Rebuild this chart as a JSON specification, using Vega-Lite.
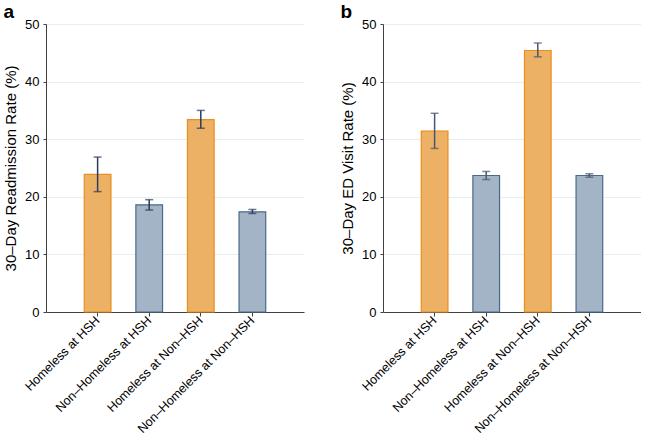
{
  "$schema": "https://vega.github.io/schema/vega-lite/v6.json",
  "padding": {"left": 3, "top": 3, "right": 0, "bottom": 0},
  "background": "white",
  "datasets": {
    "rates": [
      {"panel": "a", "group": "Homeless at HSH", "homeless": "Homeless", "rate": 23.9, "lo": 20.9, "hi": 26.9},
      {"panel": "a", "group": "Non–Homeless at HSH", "homeless": "Non-Homeless", "rate": 18.6, "lo": 17.7, "hi": 19.5},
      {"panel": "a", "group": "Homeless at Non–HSH", "homeless": "Homeless", "rate": 33.4, "lo": 31.9, "hi": 35.0},
      {"panel": "a", "group": "Non–Homeless at Non–HSH", "homeless": "Non-Homeless", "rate": 17.4, "lo": 17.1, "hi": 17.8},
      {"panel": "b", "group": "Homeless at HSH", "homeless": "Homeless", "rate": 31.4, "lo": 28.4, "hi": 34.5},
      {"panel": "b", "group": "Non–Homeless at HSH", "homeless": "Non-Homeless", "rate": 23.7, "lo": 23.0, "hi": 24.4},
      {"panel": "b", "group": "Homeless at Non–HSH", "homeless": "Homeless", "rate": 45.4, "lo": 44.3, "hi": 46.7},
      {"panel": "b", "group": "Non–Homeless at Non–HSH", "homeless": "Non-Homeless", "rate": 23.7, "lo": 23.4, "hi": 24.0}
    ]
  },
  "spacing": 36,
  "hconcat": [
    {
      "width": 258,
      "height": 288,
      "title": {"text": "a", "anchor": "start", "frame": "bounds", "fontSize": 19, "fontWeight": "bold", "font": "Liberation Sans", "offset": -4, "color": "black"},
      "data": {"name": "rates"},
      "transform": [{"filter": "datum.panel === 'a'"}],
      "encoding": {
        "x": {
          "field": "group", "type": "nominal",
          "sort": ["Homeless at HSH", "Non–Homeless at HSH", "Homeless at Non–HSH", "Non–Homeless at Non–HSH"],
          "scale": {"paddingInner": 0.483, "paddingOuter": 0.742},
          "axis": {"title": null, "labelAngle": -45, "tickSize": 4, "grid": false, "labelPadding": 2, "labelBaseline": "middle", "labelFontSize": 12.5, "labelLimit": 300}
        }
      },
      "layer": [
        {
          "mark": {"type": "bar", "strokeWidth": 1.2},
          "encoding": {
            "y": {"field": "rate", "type": "quantitative", "scale": {"domain": [0, 50], "nice": false},
                  "axis": {"title": "30–Day Readmission Rate (%)", "values": [0, 10, 20, 30, 40, 50]}},
            "fill": {"field": "homeless", "type": "nominal", "scale": {"domain": ["Homeless", "Non-Homeless"], "range": ["#EDB165", "#A3B4C6"]}, "legend": null},
            "stroke": {"field": "homeless", "type": "nominal", "scale": {"domain": ["Homeless", "Non-Homeless"], "range": ["#E88F1C", "#4B6A8B"]}, "legend": null}
          }
        },
        {
          "mark": {"type": "rule", "color": "#2A3B5C", "strokeWidth": 1.5},
          "encoding": {"y": {"field": "lo", "type": "quantitative"}, "y2": {"field": "hi"}}
        },
        {
          "mark": {"type": "tick", "color": "#2A3B5C", "size": 8, "thickness": 1.5, "orient": "horizontal"},
          "encoding": {"y": {"field": "lo", "type": "quantitative"}}
        },
        {
          "mark": {"type": "tick", "color": "#2A3B5C", "size": 8, "thickness": 1.5, "orient": "horizontal"},
          "encoding": {"y": {"field": "hi", "type": "quantitative"}}
        }
      ]
    },
    {
      "width": 258,
      "height": 288,
      "title": {"text": "b", "anchor": "start", "frame": "bounds", "fontSize": 19, "fontWeight": "bold", "font": "Liberation Sans", "offset": -4, "color": "black"},
      "data": {"name": "rates"},
      "transform": [{"filter": "datum.panel === 'b'"}],
      "encoding": {
        "x": {
          "field": "group", "type": "nominal",
          "sort": ["Homeless at HSH", "Non–Homeless at HSH", "Homeless at Non–HSH", "Non–Homeless at Non–HSH"],
          "scale": {"paddingInner": 0.483, "paddingOuter": 0.742},
          "axis": {"title": null, "labelAngle": -45, "tickSize": 4, "grid": false, "labelPadding": 2, "labelBaseline": "middle", "labelFontSize": 12.5, "labelLimit": 300}
        }
      },
      "layer": [
        {
          "mark": {"type": "bar", "strokeWidth": 1.2},
          "encoding": {
            "y": {"field": "rate", "type": "quantitative", "scale": {"domain": [0, 50], "nice": false},
                  "axis": {"title": "30–Day ED Visit Rate (%)", "values": [0, 10, 20, 30, 40, 50]}},
            "fill": {"field": "homeless", "type": "nominal", "scale": {"domain": ["Homeless", "Non-Homeless"], "range": ["#EDB165", "#A3B4C6"]}, "legend": null},
            "stroke": {"field": "homeless", "type": "nominal", "scale": {"domain": ["Homeless", "Non-Homeless"], "range": ["#E88F1C", "#4B6A8B"]}, "legend": null}
          }
        },
        {
          "mark": {"type": "rule", "color": "#4A5670", "strokeWidth": 1.5},
          "encoding": {"y": {"field": "lo", "type": "quantitative"}, "y2": {"field": "hi"}}
        },
        {
          "mark": {"type": "tick", "color": "#4A5670", "size": 8, "thickness": 1.5, "orient": "horizontal"},
          "encoding": {"y": {"field": "lo", "type": "quantitative"}}
        },
        {
          "mark": {"type": "tick", "color": "#4A5670", "size": 8, "thickness": 1.5, "orient": "horizontal"},
          "encoding": {"y": {"field": "hi", "type": "quantitative"}}
        }
      ]
    }
  ],
  "config": {
    "font": "Liberation Sans",
    "view": {"stroke": null},
    "axis": {
      "labelFont": "Liberation Sans",
      "labelFontSize": 13,
      "labelColor": "black",
      "titleFont": "Liberation Sans",
      "titleFontSize": 15,
      "titleFontWeight": "normal",
      "titleColor": "black",
      "domainColor": "#404040",
      "tickColor": "#404040",
      "gridColor": "#E5EFEF",
      "gridWidth": 1
    },
    "axisY": {"tickSize": 3, "labelPadding": 4, "titlePadding": 6, "grid": true}
  }
}
